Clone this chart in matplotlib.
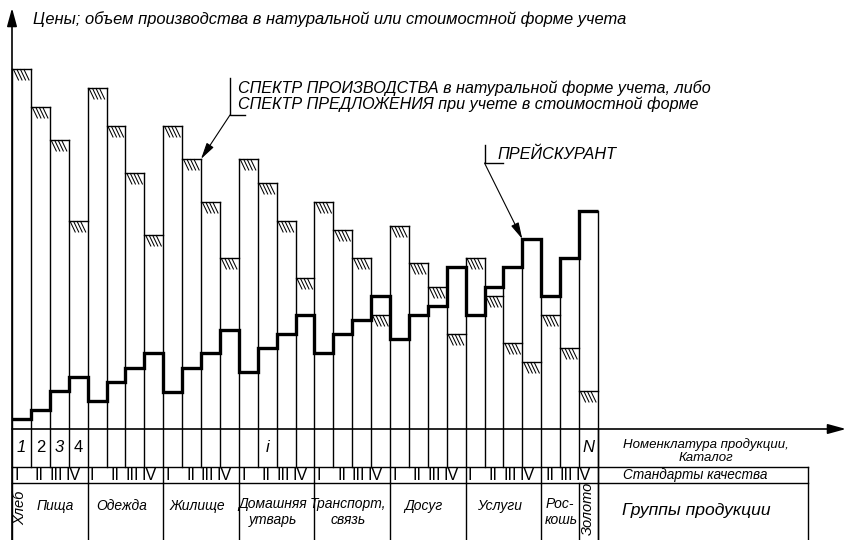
import matplotlib.pyplot as plt

plt.rcParams['font.family'] = ['Liberation Sans', 'DejaVu Sans']

# высота столбцов спектра (производство / предложение) по 31 позиции каталога
spectrum = [360, 322, 289, 208, 341, 303, 256, 194, 303, 270, 227, 171, 270, 246, 208, 151,
            227, 199, 171, 114, 203, 166, 142, 95, 171, 133, 86, 67, 114, 81, 38]
# прейскурант (ступенчатая линия цен)
prices = [10, 19, 38, 52, 28, 47, 61, 76, 37, 61, 76, 99, 57, 81, 95, 114,
          76, 95, 109, 133, 90, 114, 123, 162, 114, 142, 162, 190, 133, 171, 218]
quality = ['I', 'II', 'III', 'IV'] * 7 + ['II', 'III', 'IV']
nomen_pos = [0, 1, 2, 3, 13, 30]
nomen_txt = ['1', '2', '3', '4', 'i', 'N']
group_names = ['Хлеб', 'Пища', 'Одежда', 'Жилище', 'Домашняя\nутварь', 'Транспорт,\nсвязь',
               'Досуг', 'Услуги', 'Рос-\nкошь', 'Золото']
group_edges = [0, 1, 4, 8, 12, 16, 20, 24, 28, 30, 31]
quality_edges = [0, 4, 8, 12, 16, 20, 24, 28, 31]

n = len(spectrum)
PX = 18.9  # пикселей на одну позицию


def px(x):
    return (x - 12) / PX


def py(y):
    return 429 - y


fig = plt.figure(figsize=(8.47, 5.40), dpi=100)
ax = fig.add_axes([0, 0, 1, 1])
ax.set_xlim(px(0), px(847))
ax.set_ylim(py(540), py(0))
ax.axis('off')

K = 'black'
LW = 1.0

# оси со стрелками
arr = dict(arrowstyle='-|>,head_length=1.1,head_width=0.3', lw=1.2, color=K,
           shrinkA=0, shrinkB=0, mutation_scale=10)
ax.annotate('', xy=(0, py(8)), xytext=(0, py(540)), arrowprops=arr)
ax.annotate('', xy=(px(846), 0), xytext=(0, 0), arrowprops=arr)

# столбцы спектра
for i in range(n):
    s = spectrum[i]
    ax.plot([i, i + 1], [s, s], color=K, lw=LW)
    for off in [1.5, 5, 8.5, 12]:
        ax.plot([i + off / PX, i + (off + 5) / PX], [s - 0.5, s - 11], color=K, lw=0.75)

for k in range(n + 1):
    hs = []
    for j in (k - 1, k):
        if 0 <= j < n:
            hs.append(max(spectrum[j], prices[j]))
    ax.plot([k, k], [py(467), max(hs)], color=K, lw=LW)

# прейскурант
ax.stairs(prices, range(n + 1), baseline=None, color=K, lw=2.4)

# таблица под осью
ax.plot([0, px(808)], [py(467), py(467)], color=K, lw=LW)
ax.plot([0, px(808)], [py(483), py(483)], color=K, lw=LW)
ax.plot([n, n], [py(540), 0], color=K, lw=LW)
ax.plot([px(808), px(808)], [py(540), py(467)], color=K, lw=LW)
for k in quality_edges:
    ax.plot([k, k], [py(483), py(467)], color=K, lw=LW)
for k in group_edges[:1] + group_edges[2:]:
    ax.plot([k, k], [py(540), py(483)], color=K, lw=LW)

for p, t in zip(nomen_pos, nomen_txt):
    style = 'normal' if t in ('2', '4') else 'italic'
    ax.text(p + 0.5, py(447), t, ha='center', va='center', fontsize=12, style=style)

q_off = {'I': -5, 'II': -1, 'III': -3, 'IV': -5}
for i, q in enumerate(quality):
    ax.text(i + 0.5 + q_off[q] / PX, py(475.5), q, ha='center', va='center', fontsize=11.5)

fs = 10
for g, name in enumerate(group_names):
    a, b = group_edges[g], group_edges[g + 1]
    if b - a == 1:
        ax.text((a + b) / 2 - 1 / PX, py(508), name, ha='center', va='center', fontsize=fs + 0.5,
                style='italic', rotation=90)
    elif name == 'Пища':
        ax.text(a + 6 / PX, py(506), name, ha='left', va='center', fontsize=fs, style='italic')
    elif name.startswith('Рос'):
        ax.text(a + 4 / PX, py(512), name, ha='left', va='center', fontsize=fs,
                style='italic', linespacing=1.2)
    else:
        ax.text((a + b) / 2 - 4 / PX, py(512) if '\n' in name else py(506), name,
                ha='center', va='center', fontsize=fs, style='italic', linespacing=1.2)

ax.text(px(706), py(451), 'Номенклатура продукции,\nКаталог', ha='center', va='center',
        fontsize=9.5, style='italic', linespacing=1.2)
ax.text(px(695), py(475.5), 'Стандарты качества', ha='center', va='center',
        fontsize=9.8, style='italic')
ax.text(px(696), py(510), 'Группы продукции', ha='center', va='center',
        fontsize=12.6, style='italic')

# подписи
ax.text(px(33), py(19), 'Цены; объем производства в натуральной или стоимостной форме учета',
        ha='left', va='center', fontsize=11.9, style='italic')

ax.plot([px(230), px(230), px(245)], [py(78), py(115), py(115)], color=K, lw=LW)
ax.annotate('', xy=(10, spectrum[9]), xytext=(px(230), py(115)),
            arrowprops=dict(arrowstyle='-|>,head_length=1.0,head_width=0.25', lw=0.8,
                            color=K, shrinkA=0, shrinkB=0, mutation_scale=10))
ax.text(px(238), py(96), 'СПЕКТР ПРОИЗВОДСТВА в натуральной форме учета, либо\n'
        'СПЕКТР ПРЕДЛОЖЕНИЯ при учете в стоимостной форме',
        ha='left', va='center', fontsize=11.6, style='italic', linespacing=1.1)

ax.plot([25, 25, px(503)], [py(145), py(163), py(163)], color=K, lw=LW)
ax.annotate('', xy=(27, prices[27]), xytext=(25, py(163)),
            arrowprops=dict(arrowstyle='-|>,head_length=1.0,head_width=0.25', lw=0.8,
                            color=K, shrinkA=0, shrinkB=0, mutation_scale=10))
ax.text(px(497), py(154), 'ПРЕЙСКУРАНТ', ha='left', va='center', fontsize=11.7, style='italic')

fig.savefig('out.png', dpi=100)
